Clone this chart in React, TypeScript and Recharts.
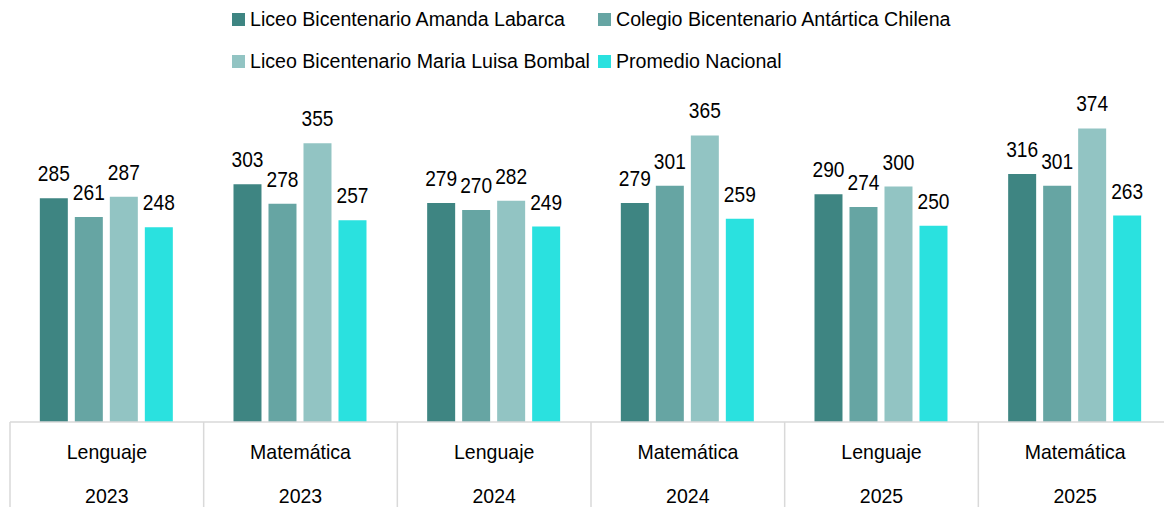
import React from 'react';
import { BarChart, Bar, XAxis, YAxis, LabelList } from 'recharts';

const subjects = ['Lenguaje', 'Matemática', 'Lenguaje', 'Matemática', 'Lenguaje', 'Matemática'];
const years = ['2023', '2023', '2024', '2024', '2025', '2025'];

const amandaLabarca = [285, 303, 279, 279, 290, 316];
const antarticaChilena = [261, 278, 270, 301, 274, 301];
const mariaLuisaBombal = [287, 355, 282, 365, 300, 374];
const promedioNacional = [248, 257, 249, 259, 250, 263];

const seriesNames = [
  'Liceo Bicentenario Amanda Labarca',
  'Colegio Bicentenario Antártica Chilena',
  'Liceo Bicentenario Maria Luisa Bombal',
  'Promedio Nacional',
];
const seriesKeys = ['amanda', 'antartica', 'bombal', 'nacional'];
const colors = ['#3e8582', '#66a5a3', '#92c4c3', '#2ae1df'];

const data = subjects.map((s, i) => ({
  cat: `${s}|${years[i]}`,
  amanda: amandaLabarca[i],
  antartica: antarticaChilena[i],
  bombal: mariaLuisaBombal[i],
  nacional: promedioNacional[i],
}));

const FONT = "'Liberation Sans', Arial, sans-serif";
const CHART_W = 1172;
const CHART_H = 507;
const LEFT = 10;

function CategoryTick(props: any) {
  const { x, y, payload, index } = props;
  const half = payload?.offset || (CHART_W - LEFT) / data.length / 2;
  const [subject, year] = String(payload.value).split('|');
  return (
    <g>
      <line x1={x - half} x2={x - half} y1={y} y2={y + 90} stroke="#d9d9d9" strokeWidth={1.5} />
      {index === data.length - 1 && (
        <line x1={x + half} x2={x + half} y1={y} y2={y + 90} stroke="#d9d9d9" strokeWidth={1.5} />
      )}
      <text transform={`translate(${x},${y + 37}) scale(0.93,1)`} textAnchor="middle" fontSize={21} fill="#000" fontFamily={FONT}>
        {subject}
      </text>
      <text transform={`translate(${x},${y + 81}) scale(0.93,1)`} textAnchor="middle" fontSize={21} fill="#000" fontFamily={FONT}>
        {year}
      </text>
    </g>
  );
}

function BarValue(props: any) {
  const { x, y, width, value } = props;
  const cx = Number(x) + Number(width) / 2;
  const ty = Number(y) - 17;
  return (
    <text transform={`translate(${cx},${ty}) scale(0.87,1)`} textAnchor="middle" fontSize={22} fill="#000" fontFamily={FONT}>
      {value}
    </text>
  );
}

function LegendBox() {
  const cols = [232, 598];
  const rows = [19, 61];
  return (
    <div style={{ position: 'absolute', left: 0, top: 0, fontFamily: FONT, fontSize: 20, color: '#000' }}>
      {seriesNames.map((name, i) => (
        <div
          key={name}
          style={{
            position: 'absolute',
            left: cols[i % 2],
            top: rows[Math.floor(i / 2)] - 15,
            height: 30,
            display: 'flex',
            alignItems: 'center',
            whiteSpace: 'nowrap',
          }}
        >
          <span style={{ width: 13, height: 13, background: colors[i], display: 'inline-block', marginRight: 5 }} />
          <span style={{ display: 'inline-block', transform: 'scaleX(0.98)', transformOrigin: 'left center' }}>{name}</span>
        </div>
      ))}
    </div>
  );
}

export default function App() {
  return (
    <div style={{ position: 'absolute', left: 0, top: 0, width: 1164, height: 507, overflow: 'hidden', background: '#fff' }}>
      <BarChart
        width={CHART_W}
        height={CHART_H}
        data={data}
        margin={{ top: 108, right: 0, left: LEFT, bottom: 0 }}
        barCategoryGap="15.4%"
        barGap={7}
      >
        <XAxis
          dataKey="cat"
          height={85}
          tickLine={false}
          tickSize={0}
          tickMargin={0}
          axisLine={{ stroke: '#d9d9d9', strokeWidth: 1.5 }}
          tick={<CategoryTick />}
          interval={0}
        />
        <YAxis hide domain={[0, 400]} />
        {seriesKeys.map((k, i) => (
          <Bar key={k} dataKey={k} name={seriesNames[i]} fill={colors[i]} isAnimationActive={false}>
            <LabelList dataKey={k} content={<BarValue />} />
          </Bar>
        ))}
      </BarChart>
      <LegendBox />
    </div>
  );
}
